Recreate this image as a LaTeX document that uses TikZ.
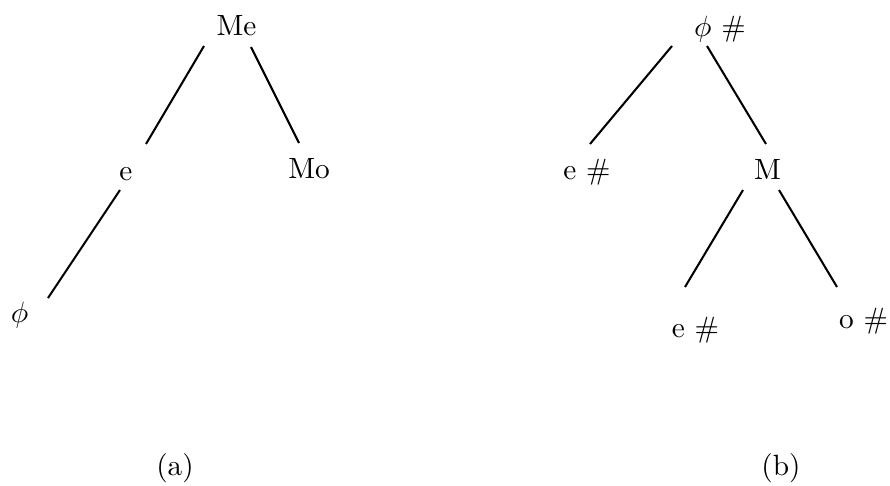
\documentclass[tikz,border=0pt]{standalone}
\usepackage{amsmath,amssymb}
\usepackage{tikz}
\usetikzlibrary{positioning}

\tikzset{
  lbl/.style={inner sep=0pt,anchor=base},
  branch/.style={line width=0.7pt}
}

\begin{document}
\begin{tikzpicture}[x=1.2cm,y=1.2cm]
  \useasboundingbox (0,0) rectangle (8.9,4.85);
  % tree (a)
  \node[lbl] (Me) at (2.365,4.50) {Me};
  \node[lbl] (ea) at (1.26,3.05) {e};
  \node[lbl] (Mo) at (3.09,3.07) {Mo};
  \node[lbl] (phia) at (0.195,1.63) {$\phi$};
  \draw[branch] ([shift={(-0.325,-0.11)}]Me.base) -- ([shift={(0.20,0.36)}]ea.base);
  \draw[branch] ([shift={(0.145,-0.12)}]Me.base) -- ([shift={(-0.10,0.35)}]Mo.base);
  \draw[branch] ([shift={(-0.06,-0.10)}]ea.base) -- ([shift={(0.285,0.24)}]phia.base);
  % tree (b)
  \node[lbl] (phib) at (7.20,4.49) {$\phi$ \#};
  \node[lbl] (eb) at (5.87,3.06) {e \#};
  \node[lbl] (M) at (7.675,3.06) {M};
  \node[lbl] (eM) at (6.955,1.48) {e \#};
  \node[lbl] (oM) at (8.635,1.57) {o \#};
  \draw[branch] ([shift={(-0.48,-0.10)}]phib.base) -- ([shift={(0.03,0.35)}]eb.base);
  \draw[branch] ([shift={(-0.13,-0.10)}]phib.base) -- ([shift={(-0.015,0.35)}]M.base);
  \draw[branch] ([shift={(-0.245,-0.11)}]M.base) -- ([shift={(-0.105,0.50)}]eM.base);
  \draw[branch] ([shift={(0.115,-0.11)}]M.base) -- ([shift={(-0.265,0.41)}]oM.base);
  % captions
  \node[lbl] (capa) at (1.75,0.10) {(a)};
  \node[lbl] (capb) at (7.81,0.10) {(b)};
\end{tikzpicture}
\end{document}
